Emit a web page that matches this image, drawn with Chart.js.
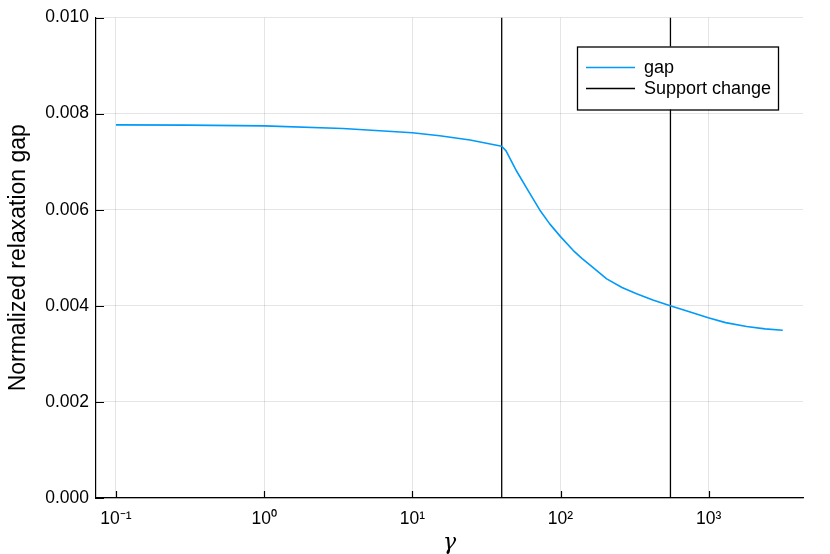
<!DOCTYPE html>
<html>
<head>
<meta charset="utf-8">
<script src="https://cdn.jsdelivr.net/npm/chart.js@4.4.1/dist/chart.umd.min.js"></script>
<style>
  html, body { margin: 0; padding: 0; background: #ffffff; }
  #wrap { width: 830px; height: 554px; position: relative; }
</style>
</head>
<body>
<div id="wrap"><canvas id="c" width="830" height="554"></canvas></div>
<script>
// ---- data ----
const gammaValues = [0.1, 0.3, 1, 3.4, 10, 15.3, 24.5, 40.1, 42.9, 50.6, 60.6, 72.6, 84.8, 100, 122, 140, 170, 205, 260, 326, 420, 550, 750, 993, 1300, 1803, 2400, 3160];
const gapValues   = [0.007765, 0.007760, 0.007745, 0.007690, 0.007600, 0.007540, 0.007450, 0.007320, 0.007225, 0.006800, 0.006390, 0.005990, 0.005700, 0.005440, 0.005150, 0.004980, 0.004770, 0.004560, 0.004380, 0.004250, 0.004120, 0.004000, 0.003870, 0.003750, 0.003650, 0.003570, 0.003520, 0.003490];
const supportChanges = [40.1, 552];
const xTickValues = [0.1, 1, 10, 100, 1000];
const xTickLabels = ['10\u207B\u00B9', '10\u2070', '10\u00B9', '10\u00B2', '10\u00B3'];
const yTickValues = [0, 0.002, 0.004, 0.006, 0.008, 0.010];
const seriesLabels = ['gap', 'Support change'];
const xRange = [0.0733, 4330];
const yRange = [0, 0.010];

// ---- build datasets ----
const gapPoints = gammaValues.map((g, i) => ({ x: g, y: gapValues[i] }));
const supportPoints = [];
supportChanges.forEach((g, i) => {
  if (i > 0) supportPoints.push({ x: g, y: null });
  supportPoints.push({ x: g, y: yRange[0] });
  supportPoints.push({ x: g, y: yRange[1] });
});

const FONT = "'Liberation Sans', Arial, Helvetica, sans-serif";

// inward tick marks
const innerTicks = {
  id: 'innerTicks',
  afterDatasetsDraw(chart) {
    const { ctx, chartArea, scales } = chart;
    ctx.save();
    ctx.strokeStyle = '#000';
    ctx.lineWidth = 1.2;
    ctx.beginPath();
    xTickValues.forEach(v => {
      const px = Math.round(scales.x.getPixelForValue(v)) + 0.5;
      ctx.moveTo(px, chartArea.bottom);
      ctx.lineTo(px, chartArea.bottom - 7);
    });
    yTickValues.forEach(v => {
      const py = Math.round(scales.y.getPixelForValue(v)) + 0.5;
      ctx.moveTo(chartArea.left, py);
      ctx.lineTo(chartArea.left + 8, py);
    });
    ctx.stroke();
    ctx.restore();
  }
};

// boxed legend inside the plot
const boxLegend = {
  id: 'boxLegend',
  afterDraw(chart) {
    const { ctx, chartArea } = chart;
    const w = 201, h = 63;
    const x0 = chartArea.right - 25 - w;
    const y0 = chartArea.top + 29;
    ctx.save();
    ctx.fillStyle = '#fff';
    ctx.fillRect(x0, y0, w, h);
    ctx.strokeStyle = '#000';
    ctx.lineWidth = 1.3;
    ctx.strokeRect(x0 + 0.5, y0 + 0.5, w, h);
    ctx.font = '18px ' + FONT;
    ctx.textBaseline = 'middle';
    ctx.textAlign = 'left';
    chart.data.datasets.forEach((ds, i) => {
      const y = y0 + 21 + i * 21;
      ctx.strokeStyle = ds.borderColor;
      ctx.lineWidth = 1.5;
      ctx.beginPath();
      ctx.moveTo(x0 + 9, y);
      ctx.lineTo(x0 + 58, y);
      ctx.stroke();
      ctx.fillStyle = '#000';
      ctx.fillText(ds.label, x0 + 67, y + 1);
    });
    ctx.restore();
  }
};

new Chart(document.getElementById('c'), {
  type: 'line',
  data: {
    datasets: [
      {
        label: seriesLabels[0],
        data: gapPoints,
        borderColor: '#009AFA',
        borderWidth: 1.6,
        pointRadius: 0,
        tension: 0,
        borderJoinStyle: 'round',
        fill: false
      },
      {
        label: seriesLabels[1],
        data: supportPoints,
        borderColor: '#000000',
        borderWidth: 1.3,
        pointRadius: 0,
        spanGaps: false,
        fill: false
      }
    ]
  },
  options: {
    responsive: false,
    animation: false,
    devicePixelRatio: 1,
    layout: { padding: { left: 0, right: 27, top: 16, bottom: 0 } },
    plugins: {
      legend: { display: false },
      tooltip: { enabled: false }
    },
    scales: {
      x: {
        type: 'logarithmic',
        min: xRange[0],
        max: xRange[1],
        afterBuildTicks: (scale) => { scale.ticks = xTickValues.map(v => ({ value: v })); },
        afterFit: (scale) => { scale.height = 56; },
        ticks: {
          autoSkip: false,
          maxRotation: 0,
          padding: 11,
          color: '#000',
          font: { family: FONT, size: 17.5 },
          callback: (v) => { const i = xTickValues.indexOf(v); return i >= 0 ? xTickLabels[i] : ''; }
        },
        grid: { color: 'rgba(0,0,0,0.1)', lineWidth: 1, drawTicks: false, tickLength: 0 },
        border: { display: true, color: '#000', width: 1.2 },
        title: {
          display: true,
          text: '\u03B3',
          color: '#000',
          font: { family: "'DejaVu Serif', 'Liberation Serif', serif", size: 22, style: 'italic', lineHeight: 1 },
          padding: { top: 0, bottom: 0 }
        }
      },
      y: {
        min: yRange[0],
        max: yRange[1],
        afterBuildTicks: (scale) => { scale.ticks = yTickValues.map(v => ({ value: v })); },
        afterFit: (scale) => { scale.width = 96; },
        ticks: {
          padding: 7,
          color: '#000',
          font: { family: FONT, size: 17.5 },
          callback: (v) => Number(v).toFixed(3)
        },
        grid: { color: 'rgba(0,0,0,0.1)', lineWidth: 1, drawTicks: false, tickLength: 0 },
        border: { display: true, color: '#000', width: 1.2 },
        title: {
          display: true,
          text: 'Normalized relaxation gap',
          color: '#000',
          font: { family: FONT, size: 23, lineHeight: 1 },
          padding: { top: 7, bottom: 0 }
        }
      }
    }
  },
  plugins: [innerTicks, boxLegend]
});
</script>
</body>
</html>
